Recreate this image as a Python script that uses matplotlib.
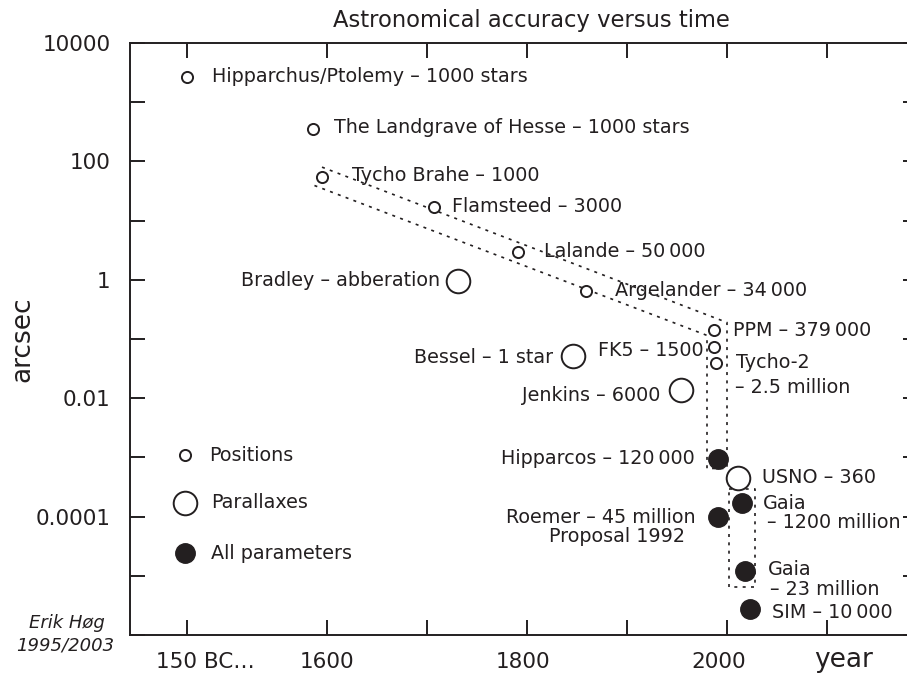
import numpy as np
import matplotlib
matplotlib.use("Agg")
import matplotlib.pyplot as plt
import matplotlib.transforms as mtransforms

ink = '#231f20'

# catalogues measuring positions (small open circles)
pos_names = ['Hipparchus', 'Landgrave', 'Tycho', 'Flamsteed', 'Lalande',
             'Argelander', 'PPM', 'FK5', 'Tycho-2']
pos_year = [1460, 1586, 1595, 1707, 1791, 1859, 1987, 1987, 1989]
pos_acc = [2700, 350, 54, 17, 3.0, 0.64, 0.14, 0.072, 0.040]

# parallax programmes (large open circles)
par_names = ['Bradley', 'Bessel', 'Jenkins', 'USNO']
par_year = [1731, 1846, 1954, 2011]
par_acc = [0.94, 0.051, 0.0135, 0.00045]

# all astrometric parameters (filled circles)
all_names = ['Hipparcos', 'Gaia1200', 'Roemer', 'Gaia23', 'SIM']
all_year = [1991, 2015, 1991, 2018, 2023]
all_acc = [0.00095, 0.00017, 0.0001, 1.2e-5, 2.75e-6]

# labels: list of (text, dx px, dy px, ha) relative to the point
labels = {
    'Hipparchus': [('Hipparchus/Ptolemy – 1000 stars', 25, 0, 'left')],
    'Landgrave': [('The Landgrave of Hesse – 1000 stars', 21, 2, 'left')],
    'Tycho': [('Tycho Brahe – 1000', 30, 2, 'left')],
    'Flamsteed': [('Flamsteed – 3000', 18, 0, 'left')],
    'Lalande': [('Lalande – 50\u2009000', 26, 0, 'left')],
    'Argelander': [('Argelander – 34\u2009000', 29, 1, 'left')],
    'PPM': [('PPM – 379\u2009000', 19, 0, 'left')],
    'FK5': [('FK5 – 1500', -10, -3, 'right')],
    'Tycho-2': [('Tycho-2', 20, 0, 'left'), ('– 2.5 million', 19, -25, 'left')],
    'Bradley': [('Bradley – abberation', -18, 1, 'right')],
    'Bessel': [('Bessel – 1 star', -20, -1, 'right')],
    'Jenkins': [('Jenkins – 6000', -21, -5, 'right')],
    'USNO': [('USNO – 360', 24, 0, 'left')],
    'Hipparcos': [('Hipparcos – 120\u2009000', -23, 0, 'right')],
    'Gaia1200': [('Gaia', 21, -1, 'left'), ('– 1200 million', 25, -20, 'left')],
    'Roemer': [('Roemer – 45 million', -22, -1, 'right'),
               ('Proposal 1992', -33, -20, 'right')],
    'Gaia23': [('Gaia', 23, 2, 'left'), ('– 23 million', 25, -18, 'left')],
    'SIM': [('SIM – 10\u2009000', 22, -4, 'left')],
}

# dotted envelopes
band_year = [1595, 2000, 2000, 1980, 1980, 1586]
band_acc = [80, 0.19, 6.5e-4, 6.5e-4, 0.115, 40]
gaia_box_year = [2002, 2028, 2028, 2002, 2002]
gaia_box_acc = [2.95e-4, 2.95e-4, 6.5e-6, 6.5e-6, 2.95e-4]

# legend
leg_labels = ['Positions', 'Parallaxes', 'All parameters']
leg_year = [1458, 1458, 1458]
leg_acc = [0.00111, 1.7e-4, 2.45e-5]

xticks = [1460, 1600, 1700, 1800, 1900, 2000, 2100]
xticklabels = ['150 BC…', '1600', '', '1800', '', '2000', '']
xlabel_shift = [18, 0, 0, -4, 0, -8, 0]
yticks = [10.0 ** k for k in range(-6, 5)]
yticklabels = {4: '10000', 2: '100', 0: '1', -2: '0.01', -4: '0.0001'}

plt.rcParams['font.family'] = 'DejaVu Sans'
fig = plt.figure(figsize=(9.07, 6.75), dpi=100)
ax = fig.add_axes([130 / 907, 40 / 675, 788 / 907, 592 / 675])
ax.set_yscale('log')
ax.set_xlim(1403, 2191)
ax.set_ylim(1e-6, 1e4)

small = dict(marker='o', ls='none', ms=8, mfc='white', mec=ink, mew=1.4, zorder=3)
large = dict(marker='o', ls='none', ms=17, mfc='white', mec=ink, mew=1.4, zorder=3)
filled = dict(marker='o', ls='none', ms=14, mfc=ink, mec=ink, mew=1.0, zorder=3)

ax.plot(band_year, band_acc, color=ink, lw=1.2, ls=(0, (1.8, 3.2)), zorder=2)
ax.plot(gaia_box_year, gaia_box_acc, color=ink, lw=1.2, ls=(0, (1.8, 3.2)), zorder=2)

ax.plot(pos_year, pos_acc, **small)
ax.plot(par_year, par_acc, **large)
ax.plot(all_year, all_acc, **filled)

ax.plot(leg_year[0], leg_acc[0], **small)
ax.plot(leg_year[1], leg_acc[1], **large)
ax.plot(leg_year[2], leg_acc[2], **filled)

fs = 13.8


def put_label(x, y, lines):
    for txt, dx, dy, ha in lines:
        ax.annotate(txt, (x, y), xytext=(dx, dy), textcoords='offset pixels',
                    ha=ha, va='center', fontsize=fs, color=ink, zorder=4)


for names, years, accs in [(pos_names, pos_year, pos_acc),
                           (par_names, par_year, par_acc),
                           (all_names, all_year, all_acc)]:
    for n, x, y in zip(names, years, accs):
        put_label(x, y, labels[n])

leg_offsets = [(24, -1), (26, 0), (26, -1)]
for lab, x, y, (dx, dy) in zip(leg_labels, leg_year, leg_acc, leg_offsets):
    put_label(x, y, [(lab, dx, dy, 'left')])

# axes styling
for s in ['top', 'bottom', 'left', 'right']:
    ax.spines[s].set_linewidth(1.4)
    ax.spines[s].set_color(ink)

ax.set_xticks(xticks)
ax.set_xticklabels(xticklabels)
ax.set_yticks(yticks)
ax.set_yticklabels([yticklabels.get(k, '') for k in range(-6, 5)])
ax.minorticks_off()
ax.tick_params(axis='both', direction='in', length=11, width=1.4, color=ink,
               labelcolor=ink, labelsize=15.5, top=True, right=True)
ax.tick_params(axis='y', pad=14)
ax.tick_params(axis='x', pad=12)

for lab, sh in zip(ax.get_xticklabels(), xlabel_shift):
    lab.set_transform(lab.get_transform() +
                      mtransforms.ScaledTranslation(sh / 100, 0, fig.dpi_scale_trans))

fig.text(531 / 907, 1 - 20 / 675, 'Astronomical accuracy versus time',
         ha='center', va='center', fontsize=16.3, color=ink)
fig.text(22 / 907, 1 - 339 / 675, 'arcsec', rotation=90,
         ha='center', va='center', fontsize=19, color=ink)
fig.text(844 / 907, 1 - 660 / 675, 'year', ha='center', va='center',
         fontsize=19, color=ink)
fig.text(67 / 907, 1 - 623 / 675, 'Erik Høg', ha='center', va='center',
         fontsize=13, style='italic', color=ink)
fig.text(65 / 907, 1 - 645 / 675, '1995/2003', ha='center', va='center',
         fontsize=13, style='italic', color=ink)

fig.savefig('out.png', dpi=100)
